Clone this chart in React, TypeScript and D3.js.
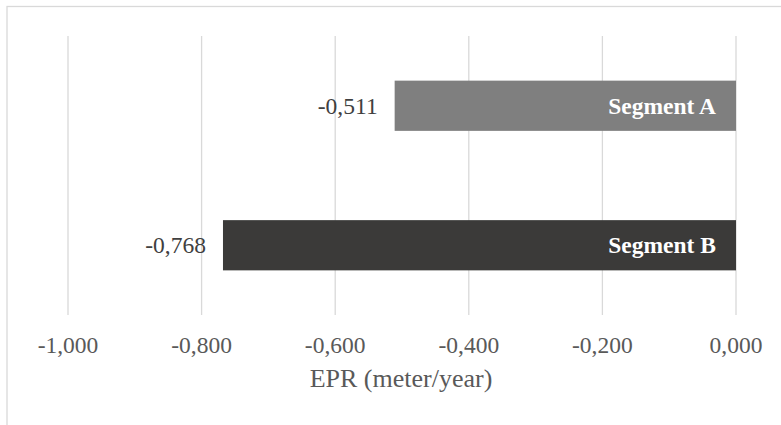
import React from "react";
import * as d3 from "d3";

const categories = ["Segment A", "Segment B"];
const values = [-0.511, -0.768];
const tickValues = [-1.0, -0.8, -0.6, -0.4, -0.2, 0.0];
const barColors = ["#7f7f7f", "#3b3a39"];
const axisTitle = "EPR (meter/year)";

const W = 781;
const H = 425;
const FONT = "Liberation Serif, Times New Roman, Times, serif";

const fmt = (v: number) => {
  const s = Math.abs(v).toFixed(3).replace(".", ",");
  return (v < 0 ? "-" : "") + s;
};

export default function App() {
  const x = d3.scaleLinear().domain([-1, 0]).range([68, 736]);
  const y = d3.scaleBand<string>().domain(categories).range([36, 315]).paddingInner(0.64).paddingOuter(0.32);

  const textStyle = { fontFamily: FONT, fontSize: 23.5 };

  return (
    <svg
      width={W}
      height={H}
      style={{ position: "absolute", left: 0, top: 0, background: "#fff" }}
    >
      <rect x={7} y={6.5} width={W + 10} height={H + 10} fill="#fff" stroke="#d9d9d9" strokeWidth={1.3} />
      {tickValues.map((t) => (
        <line key={t} x1={x(t)} x2={x(t)} y1={36} y2={315} stroke="#d9d9d9" strokeWidth={1.3} />
      ))}
      {categories.map((c, i) => {
        const v = values[i];
        const x0 = x(Math.min(v, 0));
        const x1 = x(Math.max(v, 0));
        const yy = y(c)!;
        const h = y.bandwidth();
        return (
          <g key={c}>
            <rect x={x0} y={yy} width={x1 - x0} height={h} fill={barColors[i]} />
            <text
              x={x0 - 17}
              y={yy + h / 2 + 8}
              textAnchor="end"
              style={textStyle}
              fill="#404040"
            >
              {fmt(v)}
            </text>
            <text
              x={x1 - 20}
              y={yy + h / 2 + 8}
              textAnchor="end"
              style={{ ...textStyle, fontWeight: "bold" }}
              fill="#ffffff"
            >
              {c}
            </text>
          </g>
        );
      })}
      {tickValues.map((t) => (
        <text key={"l" + t} x={x(t)} y={353} textAnchor="middle" style={textStyle} fill="#595959">
          {fmt(t)}
        </text>
      ))}
      <text x={401} y={387} textAnchor="middle" style={{ ...textStyle, fontSize: 26 }} fill="#595959">
        {axisTitle}
      </text>
    </svg>
  );
}
